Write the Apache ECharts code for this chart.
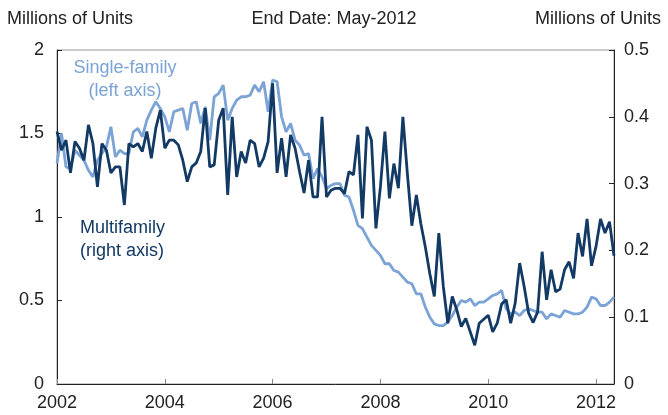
<!DOCTYPE html>
<html>
<head>
<meta charset="utf-8" />
<title>Housing starts</title>
<script src="https://cdn.jsdelivr.net/npm/echarts@6/dist/echarts.min.js"></script>
<style>
	html, body { margin: 0; padding: 0; background: #fff; }
	#chart { width: 668px; height: 415px; }
</style>
</head>
<body>
<div id="chart"></div>
<script>
// monthly, Jan-2002 .. May-2012
var startYear = 2002;
var monthCount = 125;
var yearLabels = ['2002', '2004', '2006', '2008', '2010', '2012'];

// single-family starts, millions (left axis)
var singleFamily = [
	1.32, 1.50, 1.30, 1.29, 1.40, 1.37, 1.34, 1.28, 1.24, 1.34, 1.38, 1.42,
	1.54, 1.36, 1.40, 1.38, 1.38, 1.51, 1.53, 1.48, 1.58, 1.64, 1.69, 1.65,
	1.60, 1.51, 1.63, 1.64, 1.65, 1.52, 1.68, 1.69, 1.56, 1.66, 1.46, 1.72,
	1.74, 1.79, 1.58, 1.65, 1.70, 1.72, 1.72, 1.73, 1.79, 1.75, 1.81, 1.63,
	1.82, 1.81, 1.60, 1.51, 1.56, 1.46, 1.43, 1.37, 1.38, 1.23, 1.29, 1.24,
	1.17, 1.19, 1.20, 1.20, 1.13, 1.12, 1.04, 0.95, 0.93, 0.88, 0.83, 0.80,
	0.77, 0.72, 0.72, 0.68, 0.67, 0.64, 0.61, 0.60, 0.54, 0.54, 0.46, 0.40,
	0.36, 0.35, 0.35, 0.37, 0.41, 0.46, 0.50, 0.49, 0.51, 0.47, 0.49, 0.49,
	0.51, 0.53, 0.54, 0.56, 0.45, 0.42, 0.43, 0.41, 0.44, 0.45, 0.44, 0.43,
	0.43, 0.39, 0.42, 0.41, 0.40, 0.44, 0.43, 0.42, 0.42, 0.43, 0.46, 0.52,
	0.51, 0.47, 0.47, 0.49, 0.52
];

// multifamily starts, millions (right axis)
var multiFamily = [
	0.378, 0.350, 0.365, 0.316, 0.363, 0.353, 0.335, 0.388, 0.360, 0.295, 0.360, 0.350,
	0.316, 0.325, 0.325, 0.268, 0.360, 0.355, 0.360, 0.348, 0.378, 0.338, 0.383, 0.410,
	0.353, 0.365, 0.365, 0.358, 0.335, 0.303, 0.325, 0.331, 0.348, 0.413, 0.325, 0.328,
	0.395, 0.413, 0.283, 0.400, 0.310, 0.348, 0.331, 0.365, 0.360, 0.325, 0.338, 0.363,
	0.450, 0.316, 0.368, 0.310, 0.373, 0.353, 0.318, 0.286, 0.335, 0.280, 0.280, 0.400,
	0.280, 0.290, 0.293, 0.293, 0.285, 0.318, 0.313, 0.373, 0.248, 0.385, 0.365, 0.233,
	0.295, 0.378, 0.278, 0.330, 0.293, 0.400, 0.315, 0.237, 0.283, 0.240, 0.205, 0.165,
	0.131, 0.226, 0.146, 0.091, 0.131, 0.111, 0.086, 0.098, 0.078, 0.058, 0.091, 0.097,
	0.103, 0.078, 0.091, 0.120, 0.126, 0.091, 0.121, 0.181, 0.146, 0.106, 0.092, 0.108,
	0.198, 0.126, 0.171, 0.138, 0.142, 0.171, 0.183, 0.158, 0.226, 0.191, 0.247, 0.177,
	0.206, 0.247, 0.226, 0.243, 0.192
];

var months = [];
for (var i = 0; i < monthCount; i++) {
	var y = startYear + Math.floor(i / 12);
	var m = (i % 12) + 1;
	months.push(y + '-' + (m < 10 ? '0' + m : m));
}

var font = '"Liberation Sans", Arial, sans-serif';
var fs = 18;
var dark = '#123a64';
var light = '#7ba3d5';
var txt = { fontFamily: font, fontSize: fs, fontWeight: 'normal', color: '#222' };

var chart = echarts.init(document.getElementById('chart'));
chart.setOption({
	animation: false,
	title: [
		{ text: 'Millions of Units', left: 2, top: 5, textStyle: txt },
		{ text: 'End Date: May-2012', left: 'center', top: 5, textStyle: txt },
		{ text: 'Millions of Units', right: 2, top: 5, textStyle: txt }
	],
	grid: {
		left: 57, right: 54, top: 50, bottom: 31,
		show: true, borderColor: '#999', borderWidth: 1
	},
	xAxis: {
		type: 'category',
		data: months,
		boundaryGap: false,
		axisLine: { lineStyle: { color: '#222', width: 1 } },
		axisTick: {
			inside: true, length: 5,
			interval: function (idx) { return idx % 24 === 0; },
			lineStyle: { color: '#888' }
		},
		axisLabel: {
			interval: function (idx) { return idx % 24 === 0; },
			formatter: function (v) { return yearLabels[yearLabels.indexOf(v.slice(0, 4))]; },
			margin: 10, fontFamily: font, fontSize: fs, color: '#222'
		},
		splitLine: { show: false }
	},
	yAxis: [
		{
			type: 'value', min: 0, max: 2, interval: 0.5, position: 'left',
			axisLine: { show: true, lineStyle: { color: '#222' } },
			axisTick: { show: true, inside: true, length: 5, lineStyle: { color: '#222' } },
			axisLabel: { margin: 13, fontFamily: font, fontSize: fs, color: '#222' },
			splitLine: { show: false }
		},
		{
			type: 'value', min: 0, max: 0.5, interval: 0.1, position: 'right',
			axisLine: { show: true, lineStyle: { color: '#222' } },
			axisTick: { show: true, inside: true, length: 5, lineStyle: { color: '#222' } },
			axisLabel: { margin: 10, fontFamily: font, fontSize: fs, color: '#222' },
			splitLine: { show: false }
		}
	],
	graphic: [
		{ type: 'text', x: 125, y: 59, style: { text: 'Single-family', font: fs + 'px ' + font, fill: light, textAlign: 'center' } },
		{ type: 'text', x: 125, y: 82, style: { text: '(left axis)', font: fs + 'px ' + font, fill: light, textAlign: 'center' } },
		{ type: 'text', x: 80, y: 219, style: { text: 'Multifamily', font: fs + 'px ' + font, fill: dark } },
		{ type: 'text', x: 80, y: 242, style: { text: '(right axis)', font: fs + 'px ' + font, fill: dark } }
	],
	series: [
		{
			name: 'Single-family', type: 'line', yAxisIndex: 0,
			data: singleFamily, showSymbol: false,
			lineStyle: { color: light, width: 2.8 }
		},
		{
			name: 'Multifamily', type: 'line', yAxisIndex: 1,
			data: multiFamily, showSymbol: false,
			lineStyle: { color: dark, width: 2.8 }
		}
	]
});
</script>
</body>
</html>
